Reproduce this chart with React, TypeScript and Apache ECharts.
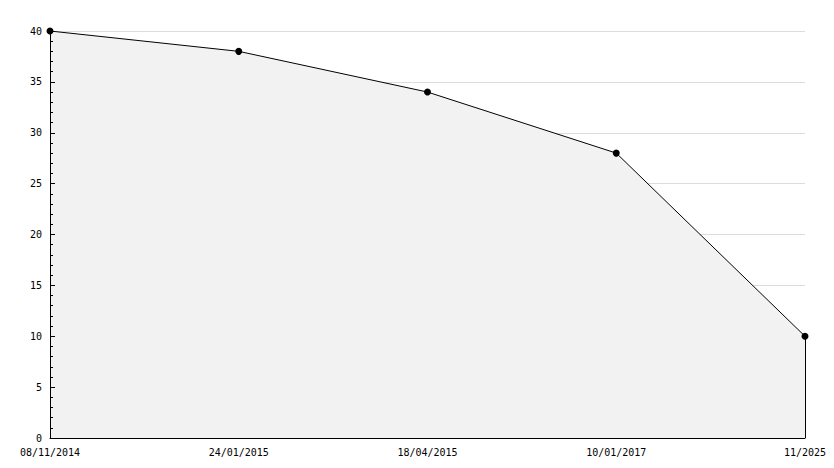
import React, { useEffect, useRef } from "react";
import * as echarts from "echarts";

const categories = ["08/11/2014", "24/01/2015", "18/04/2015", "10/01/2017", "11/2025"];
const values = [40, 38, 34, 28, 10];
const yMin = 0;
const yMax = 40;
const yInterval = 5;

export default function App() {
  const ref = useRef<HTMLDivElement>(null);
  useEffect(() => {
    if (!ref.current) return;
    const chart = echarts.init(ref.current, null, { renderer: "svg" });
    const font = "DejaVu Sans Mono";
    const last = categories.length - 1;
    chart.setOption({
      animation: false,
      backgroundColor: "#ffffff",
      grid: { left: 50, right: 29, top: 31, bottom: 30, containLabel: false },
      xAxis: {
        type: "category",
        data: categories,
        boundaryGap: false,
        z: 5,
        axisLine: { show: true, lineStyle: { color: "#000", width: 1 } },
        axisTick: { show: false },
        axisLabel: { color: "#000", fontFamily: font, fontSize: 10, margin: 9, interval: 0 },
        splitLine: { show: false },
      },
      yAxis: [
        {
          type: "value",
          min: yMin,
          max: yMax,
          interval: yInterval,
          z: 0,
          axisLine: { show: false },
          axisTick: { show: false },
          axisLabel: { color: "#000", fontFamily: font, fontSize: 10, margin: 8 },
          splitLine: { show: true, lineStyle: { color: "#dddddd", width: 1 } },
        },
        {
          type: "value",
          position: "left",
          min: yMin,
          max: yMax,
          interval: yInterval,
          z: 5,
          axisLine: { show: true, onZero: false, lineStyle: { color: "#000", width: 1 } },
          axisTick: { show: true, inside: true, length: 5, lineStyle: { color: "#000" } },
          minorTick: { show: true, splitNumber: 5, length: 3, lineStyle: { color: "#000" } },
          axisLabel: { show: false },
          splitLine: { show: false },
        },
      ],
      series: [
        {
          type: "line",
          z: 3,
          yAxisIndex: 0,
          data: values,
          symbol: "circle",
          symbolSize: 7,
          itemStyle: { color: "#000" },
          lineStyle: { color: "#000", width: 1 },
          areaStyle: { color: "#f2f2f2", opacity: 1 },
          markLine: {
            silent: true,
            symbol: "none",
            label: { show: false },
            lineStyle: { color: "#000", width: 1, type: "solid" },
            data: [[{ coord: [categories[last], yMin] }, { coord: [categories[last], values[last]] }]],
          },
        },
      ],
    });
    return () => chart.dispose();
  }, []);
  return <div ref={ref} style={{ width: 834, height: 468, position: "absolute", left: 0, top: 0 }} />;
}
